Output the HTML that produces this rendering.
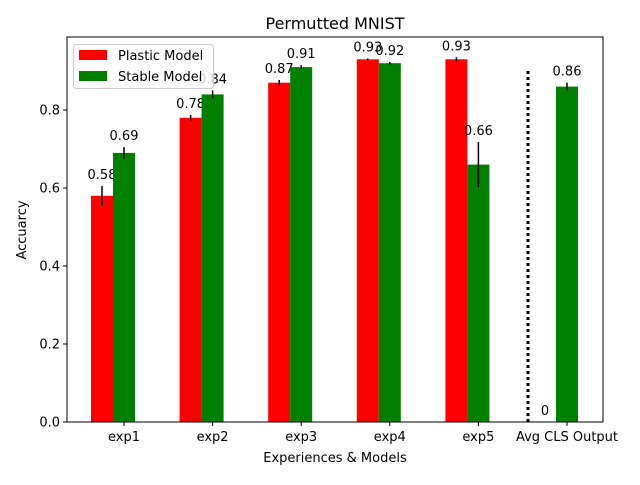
<!DOCTYPE html>
<html><head><meta charset="utf-8"><style>
body{margin:0;background:#fff}
svg text{font-family:"DejaVu Sans","Liberation Sans",sans-serif;}
</style></head><body>
<svg id="c" width="640" height="480" xmlns="http://www.w3.org/2000/svg"></svg>
<script>
const categories=["exp1","exp2","exp3","exp4","exp5","Avg CLS Output"];
const plastic=[0.58,0.78,0.87,0.93,0.93,0];
const plasticErr=[0.025,0.007,0.007,0.002,0.005,0];
const stable=[0.69,0.84,0.91,0.92,0.66,0.86];
const stableErr=[0.015,0.01,0.005,0.003,0.058,0.01];
const yTicks=[0,0.2,0.4,0.6,0.8];
const dividerValue=0.9;

const svg=document.getElementById('c');
const NS='http://www.w3.org/2000/svg';
const L=67,R=603,T=37,B=422;
const y=v=>B-v*390;
const xc=i=>124+i*88.6;
function mk(tag,attrs,name,txt){const e=document.createElementNS(NS,tag);for(const k in attrs)e.setAttribute(k,attrs[k]);


if(txt!==undefined)e.textContent=txt;svg.appendChild(e);return e;}
function fmt(v){return v===0?'0':String(Math.round(v*100)/100);}
categories.forEach((c,i)=>{
  const rx=xc(i)-33,gx=xc(i)-11;
  if(plastic[i]>0){
    mk('rect',{x:rx,y:y(plastic[i]),width:22,height:B-y(plastic[i]),fill:'#ff0000'},'bar-plastic-'+c);
    mk('line',{x1:rx+11,x2:rx+11,y1:y(plastic[i]+plasticErr[i]),y2:y(plastic[i]-plasticErr[i]),stroke:'#000','stroke-width':1.5},'error-plastic-'+c);
  }
  mk('text',{x:rx+11,y:y(plastic[i]+plasticErr[i])-7,'text-anchor':'middle','font-size':13},'label-plastic-'+c,fmt(plastic[i]));
  mk('rect',{x:gx,y:y(stable[i]),width:22,height:B-y(stable[i]),fill:'#008000'},'bar-stable-'+c);
  mk('line',{x1:gx+11,x2:gx+11,y1:y(stable[i]+stableErr[i]),y2:y(stable[i]-stableErr[i]),stroke:'#000','stroke-width':1.5},'error-stable-'+c);
  mk('text',{x:gx+11,y:y(stable[i]+stableErr[i])-7,'text-anchor':'middle','font-size':13},'label-stable-'+c,fmt(stable[i]));
  mk('line',{x1:xc(i),x2:xc(i),y1:B,y2:B+4,stroke:'#000'},'x-tick');
  mk('text',{x:xc(i),y:B+19,'text-anchor':'middle','font-size':13},'x-tick-label',c);
});
mk('line',{x1:528,x2:528,y1:B,y2:y(dividerValue),stroke:'#000','stroke-width':3,'stroke-dasharray':'3,3'},'divider-line');
yTicks.forEach(t=>{
  mk('line',{x1:L-4,x2:L,y1:y(t),y2:y(t),stroke:'#000'},'y-tick');
  mk('text',{x:L-7,y:y(t)+4.5,'text-anchor':'end','font-size':13},'y-tick-label',t.toFixed(1));
});
mk('rect',{x:L,y:T,width:R-L,height:B-T,fill:'none',stroke:'#000','stroke-width':1},'plot-frame');
mk('text',{x:335,y:29,'text-anchor':'middle','font-size':16},'chart-title','Permutted MNIST');
mk('text',{x:335,y:462,'text-anchor':'middle','font-size':13},'x-axis-title','Experiences & Models');
mk('text',{x:26,y:230,'text-anchor':'middle','font-size':13,transform:'rotate(-90 26 230)'},'y-axis-title','Accuarcy');
mk('rect',{x:73.5,y:44.5,width:140,height:44,rx:3,fill:'#fff','fill-opacity':0.8,stroke:'#ccc'},'legend-box');
mk('rect',{x:79,y:50,width:28,height:10,fill:'#ff0000'},'legend-swatch-plastic');
mk('text',{x:118,y:60,'font-size':13},'legend-label-plastic','Plastic Model');
mk('rect',{x:79,y:71,width:28,height:10,fill:'#008000'},'legend-swatch-stable');
mk('text',{x:118,y:81,'font-size':13},'legend-label-stable','Stable Model');
</script>
</body></html>
